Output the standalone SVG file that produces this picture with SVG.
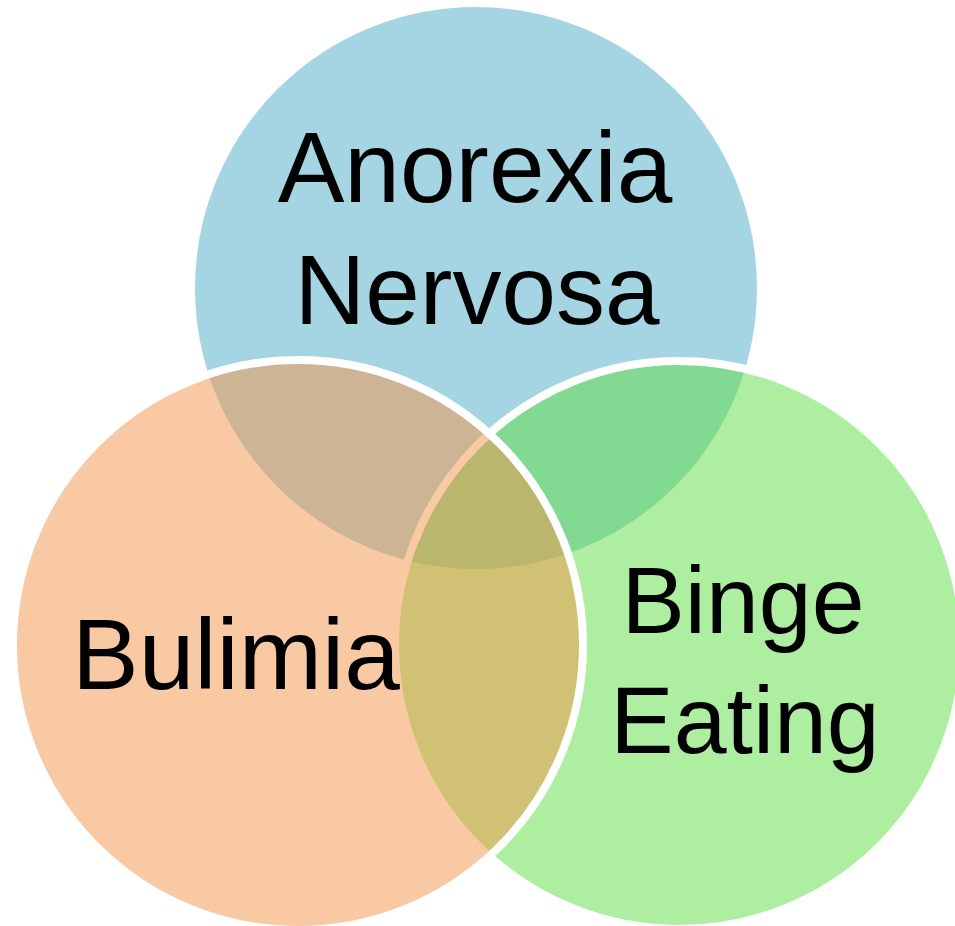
<svg xmlns="http://www.w3.org/2000/svg" width="955" height="926" viewBox="0 0 955 926">
  <style>
    .c { stroke: #ffffff; stroke-width: 8; fill-opacity: 0.5; }
    .t { font-family: "Liberation Sans", Arial, sans-serif; font-size: 98px; fill: #000000; text-anchor: middle; }
  </style>
  <rect x="0" y="0" width="955" height="926" fill="#ffffff"/>
  <g id="anorexia">
    <circle class="c" cx="476" cy="288" r="285" fill="#4babc5"/>
    <text class="t" x="475" y="202" style="font-size:100px">Anorexia</text>
    <text class="t" x="477" y="324">Nervosa</text>
  </g>
  <g id="binge">
    <circle class="c" cx="679" cy="645" r="284" fill="#5ddd41"/>
    <text class="t" x="743" y="633" style="font-size:95px">Binge</text>
    <text class="t" x="745" y="753" style="font-size:95px">Eating</text>
  </g>
  <g id="bulimia">
    <circle class="c" cx="298" cy="645" r="285" fill="#f39347"/>
    <text class="t" x="236" y="689" style="font-size:100px">Bulimia</text>
  </g>
</svg>
